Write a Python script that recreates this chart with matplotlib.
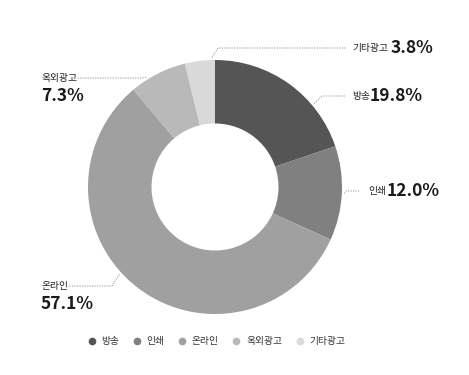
import matplotlib
matplotlib.use("Agg")
import matplotlib.pyplot as plt
from matplotlib.lines import Line2D
import numpy as np

plt.rcParams['font.family'] = ['Noto Sans CJK KR', 'DejaVu Sans']

# data
labels = ['방송', '인쇄', '온라인', '옥외광고', '기타광고']
shares = [19.8, 12.0, 57.1, 7.3, 3.8]
colors = ['#555555', '#808080', '#a0a0a0', '#b9b9b9', '#d9d9d9']

W, H = 469, 375
fig = plt.figure(figsize=(W / 100, H / 100), dpi=100)

# donut: centre (215,187) px, radius 127 px
cx, cy, R = 215, 187, 127
ax = fig.add_axes([(cx - R) / W, (H - cy - R) / H, 2 * R / W, 2 * R / H])
wedges, _ = ax.pie(shares, colors=colors, startangle=90, counterclock=False,
                   radius=1.0, wedgeprops=dict(width=0.5, linewidth=0))
ax.set_xlim(-1, 1)
ax.set_ylim(-1, 1)
ax.set_aspect('equal')
ax.axis('off')


def px(x, y):
    return x / W, 1 - y / H


# label placement: where in the wedge the leader starts (0..1 of its span,
# clockwise), elbow / line end (px), text positions (px)
place = {
    '방송':   dict(pos=0.70, elbow=(322, 96), end=(346, 96), name=(352, 96), val=(370, 96)),
    '인쇄':   dict(pos=0.50, elbow=(346, 191), end=(360, 191), name=(368, 191), val=(387, 191)),
    '온라인': dict(pos=0.55, elbow=(112, 286), end=(68, 286), name=(42, 286), val=(41, 304)),
    '옥외광고': dict(pos=0.30, elbow=(142, 78), end=(77, 78), name=(42, 78), val=(41, 96)),
    '기타광고': dict(pos=0.90, elbow=(218, 48), end=(346, 48), name=(352, 48), val=(391, 48)),
}

for w, lab, val in zip(wedges, labels, shares):
    p = place[lab]
    ang = np.deg2rad(w.theta2 + (w.theta1 - w.theta2) * p['pos'])
    ax_px = cx + np.cos(ang) * 1.02 * R
    ax_py = cy - np.sin(ang) * 1.02 * R
    pts = [(ax_px, ax_py), p['elbow'], p['end']]
    xs = [px(*q)[0] for q in pts]
    ys = [px(*q)[1] for q in pts]
    fig.add_artist(Line2D(xs, ys, transform=fig.transFigure, color='#888888',
                          lw=0.6, linestyle=(0, (1.5, 1.5))))
    fig.text(*px(*p['name']), lab, fontsize=7, color='#222222',
             fontweight='medium', ha='left', va='center')
    fig.text(*px(*p['val']), f'{val:.1f}%', fontsize=12.5, fontweight='black',
             color='#1a1a1a', ha='left', va='center')

handles = [Line2D([], [], marker='o', linestyle='', markersize=4.5,
                  markerfacecolor=c, markeredgecolor=c) for c in colors]
fig.legend(handles, labels, loc='center', bbox_to_anchor=(216 / W, 1 - 341 / H),
           ncol=5, frameon=False, fontsize=7, handletextpad=0.5,
           columnspacing=1.3, handlelength=1.0, labelcolor='#333333')

fig.savefig('out.png', dpi=100)
